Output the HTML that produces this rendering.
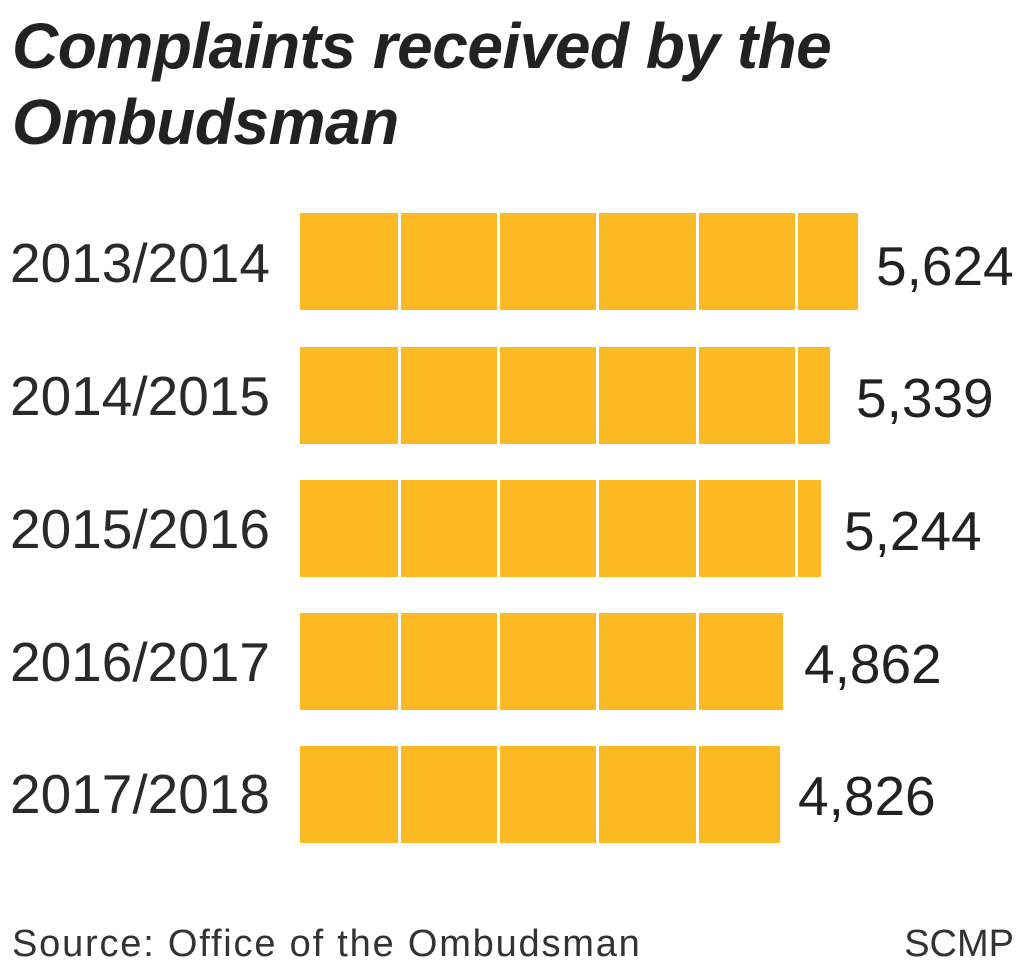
<!DOCTYPE html>
<html><head><style>
body{margin:0;background:#fff;width:1024px;height:974px;position:relative;overflow:hidden;font-family:"Liberation Sans",sans-serif;color:#222}
.t{position:absolute;left:12px;top:8px;font-size:64px;font-weight:bold;font-style:italic;line-height:76px;letter-spacing:-0.5px}
.l{position:absolute;left:10px;font-size:55px;color:#2a2a2a;line-height:64px}
.v{position:absolute;font-size:55px;color:#222;line-height:64px}
.bar{position:absolute;left:300px;height:97px;background:#FDB924}
.d{position:absolute;top:0;width:3px;height:100%;background:#fff}
.s{position:absolute;top:922px;font-size:38px;color:#333;line-height:44px;letter-spacing:1.8px}
</style></head><body>
<div class="t">Complaints received by the<br>Ombudsman</div>

<div class="l" style="top:231px">2013/2014</div>
<div class="bar" style="top:213px;width:558px"><div class="d" style="left:98px"></div><div class="d" style="left:197px"></div><div class="d" style="left:296px"></div><div class="d" style="left:396px"></div><div class="d" style="left:495px"></div></div>
<div class="v" style="left:876px;top:234px">5,624</div>

<div class="l" style="top:364px">2014/2015</div>
<div class="bar" style="top:347px;width:530px"><div class="d" style="left:98px"></div><div class="d" style="left:197px"></div><div class="d" style="left:296px"></div><div class="d" style="left:396px"></div><div class="d" style="left:495px"></div></div>
<div class="v" style="left:856px;top:366px">5,339</div>

<div class="l" style="top:497px">2015/2016</div>
<div class="bar" style="top:480px;width:521px"><div class="d" style="left:98px"></div><div class="d" style="left:197px"></div><div class="d" style="left:296px"></div><div class="d" style="left:396px"></div><div class="d" style="left:495px"></div></div>
<div class="v" style="left:844px;top:499px">5,244</div>

<div class="l" style="top:630px">2016/2017</div>
<div class="bar" style="top:613px;width:483px"><div class="d" style="left:98px"></div><div class="d" style="left:197px"></div><div class="d" style="left:296px"></div><div class="d" style="left:396px"></div></div>
<div class="v" style="left:804px;top:632px">4,862</div>

<div class="l" style="top:762px">2017/2018</div>
<div class="bar" style="top:746px;width:480px"><div class="d" style="left:98px"></div><div class="d" style="left:197px"></div><div class="d" style="left:296px"></div><div class="d" style="left:396px"></div></div>
<div class="v" style="left:798px;top:764px">4,826</div>

<div class="s" style="left:12px">Source: Office of the Ombudsman</div>
<div class="s" style="right:10px;letter-spacing:0">SCMP</div>
</body></html>
